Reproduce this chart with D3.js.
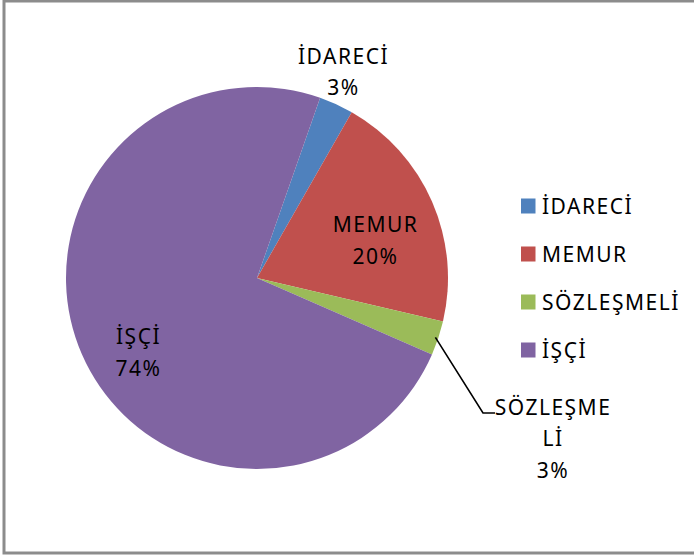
<!DOCTYPE html>
<html>
<head>
<meta charset="utf-8">
<script src="https://cdn.jsdelivr.net/npm/d3@7"></script>
<style>
  body { margin: 0; background: #fff; }
  text { font-family: "Noto Sans", "Open Sans", sans-serif; fill: #000; }
</style>
</head>
<body>
<div class="chart"></div>
<script>
// data (shares in percent)
var categories = ["İDARECİ", "MEMUR", "SÖZLEŞMELİ", "İŞÇİ"];
var values = [2.9, 20.4, 2.9, 73.8];
var colors = ["#4F81BD", "#C0504D", "#9BBB59", "#8064A2"];

var svgWidth = 694;
var svgHeight = 555;

var cx = 257, cy = 278, radius = 191;
var startDeg = 19.3;

var svg = d3.select(".chart")
  .append("svg")
  .attr("width", svgWidth)
  .attr("height", svgHeight);

// chart frame (right edge is cut off in the picture)
svg.append("rect")
  .attr("x", 4)
  .attr("y", 1)
  .attr("width", 720)
  .attr("height", 552)
  .attr("fill", "#fff")
  .attr("stroke", "#8c8c8c")
  .attr("stroke-width", 3);

var total = d3.sum(values);
var table = categories.map((c, i) => ({ name: c, value: values[i], color: colors[i] }));

var a0 = startDeg * Math.PI / 180;
var pie = d3.pie()
  .sort(null)
  .value(d => d.value)
  .startAngle(a0)
  .endAngle(a0 + 2 * Math.PI);

var arc = d3.arc().innerRadius(0).outerRadius(radius);

var pieGroup = svg.append("g")
  .attr("transform", `translate(${cx}, ${cy})`);

var arcs = pie(table);

pieGroup.selectAll("path")
  .data(arcs)
  .enter()
  .append("path")
  .attr("d", arc)
  .attr("fill", d => d.data.color);

// label placement, relative to the pie centre (x = line centre, y = first line cap middle)
var labelLayout = {
  "İDARECİ":    { x: 86.5,  y: -221.7, wrap: 0 },
  "MEMUR":      { x: 118.5, y: -53.5,  wrap: 0 },
  "SÖZLEŞMELİ": { x: 296,   y: 129.5,  wrap: 8 },
  "İŞÇİ":       { x: -118.5, y: 59,    wrap: 0 }
};
var lineHeight = 31.5;
var fontSize = 21;
var spacing = "1.5px";

arcs.forEach(function (d) {
  var lay = labelLayout[d.data.name];
  var lines = [];
  if (lay.wrap && d.data.name.length > lay.wrap) {
    lines.push(d.data.name.slice(0, lay.wrap));
    lines.push(d.data.name.slice(lay.wrap));
  } else {
    lines.push(d.data.name);
  }
  lines.push(Math.round(d.data.value / total * 100) + "%");

  var t = pieGroup.append("text")
    .attr("text-anchor", "middle")
    .attr("font-size", fontSize + "px")
    .attr("letter-spacing", spacing);
  lines.forEach(function (line, i) {
    t.append("tspan")
      .attr("x", lay.x)
      .attr("y", lay.y + i * lineHeight + fontSize * 0.357)
      .text(line);
  });

  // leader line for the label that sits away from its slice
  if (lay.wrap) {
    var mid = (d.startAngle + d.endAngle) / 2;
    var p0 = [Math.sin(mid) * (radius - 3), -Math.cos(mid) * (radius - 3)];
    var elbowY = lay.y + 5.5;
    var p1 = [lay.x - 70, elbowY];
    var p2 = [lay.x - 58, elbowY];
    pieGroup.append("path")
      .attr("d", d3.line()([p0, p1, p2]))
      .attr("fill", "none")
      .attr("stroke", "#000")
      .attr("stroke-width", 1.6);
  }
});

// legend
var legend = svg.append("g")
  .attr("transform", "translate(521, 206)");

var item = legend.selectAll("g")
  .data(table)
  .enter()
  .append("g")
  .attr("transform", (d, i) => `translate(0, ${i * 48})`);

item.append("rect")
  .attr("x", 0)
  .attr("y", -7.5)
  .attr("width", 14.5)
  .attr("height", 15)
  .attr("fill", d => d.color);

item.append("text")
  .attr("x", 21)
  .attr("y", fontSize * 0.357)
  .attr("font-size", fontSize + "px")
  .attr("letter-spacing", spacing)
  .text(d => d.name);
</script>
</body>
</html>
